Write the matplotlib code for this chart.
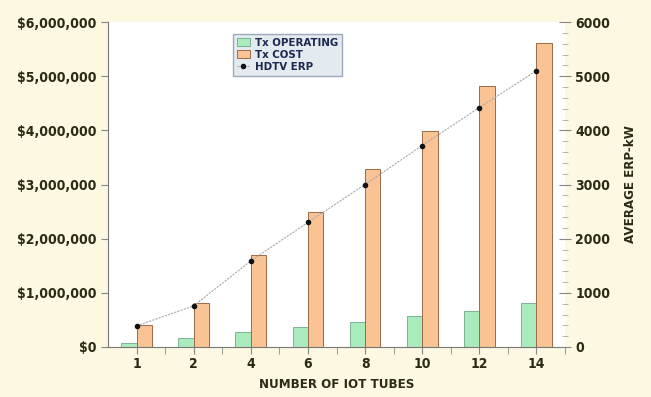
import matplotlib
matplotlib.use("Agg")
import matplotlib.pyplot as plt
from matplotlib.ticker import FuncFormatter, MultipleLocator
import numpy as np

categories = ["1", "2", "4", "6", "8", "10", "12", "14"]
tx_operating = [80000, 160000, 280000, 375000, 470000, 580000, 670000, 810000]
tx_cost = [400000, 820000, 1700000, 2500000, 3280000, 3990000, 4810000, 5610000]
hdtv_erp = [390, 760, 1590, 2300, 3000, 3720, 4420, 5100]

plt.rcParams['font.family'] = ['DejaVu Sans']
plt.rcParams['font.stretch'] = 'condensed'
txt = '#2b2b12'

fig = plt.figure(figsize=(6.51, 3.97), dpi=100, facecolor='#fcf8e2')
ax = fig.add_axes([108/651, 1-347/397, (565-108)/651, (347-22)/397])
ax.set_facecolor('white')

x = np.arange(len(categories))
w = 0.27
ax.bar(x - w/2, tx_operating, w, color='#a9ebbd', edgecolor='#6fa888', linewidth=0.6, label='Tx OPERATING')
ax.bar(x + w/2, tx_cost, w, color='#f9c394', edgecolor='#9a6a48', linewidth=0.7, label='Tx COST')

ax.set_xlim(-0.5, len(categories) - 0.5)
ax.set_ylim(0, 6000000)
ax.set_xticks(x)
ax.set_xticklabels(categories)
ax.set_xticks(np.arange(len(categories)) + 0.5, minor=True)
ax.yaxis.set_major_locator(MultipleLocator(1000000))
ax.yaxis.set_major_formatter(FuncFormatter(lambda v, p: f"${int(v):,}"))
for s in ['top', 'right']:
    ax.spines[s].set_visible(False)
for s in ['left', 'bottom']:
    ax.spines[s].set_color('#777777')
    ax.spines[s].set_linewidth(0.8)
ax.tick_params(axis='both', which='major', labelsize=10, colors='#888888', labelcolor=txt, length=5, width=0.8)
ax.tick_params(axis='x', which='major', pad=2)
ax.tick_params(axis='x', which='minor', length=5, color='#888888')
for lab in ax.get_xticklabels() + ax.get_yticklabels():
    lab.set_fontweight('bold')
ax.set_xlabel('NUMBER OF IOT TUBES', fontsize=9.5, fontweight='bold', color=txt, labelpad=5)

ax2 = ax.twinx()
line, = ax2.plot(x, hdtv_erp, color='#aaaaaa', linewidth=0.8, linestyle=(0, (2, 1)),
                 marker='o', markersize=3, markerfacecolor='#111111', markeredgecolor='#111111',
                 label='HDTV ERP')
ax2.set_ylim(0, 6000)
ax2.yaxis.set_major_locator(MultipleLocator(1000))
ax2.yaxis.set_minor_locator(MultipleLocator(200))
for s in ['top', 'left', 'bottom', 'right']:
    ax2.spines[s].set_visible(False)
ax2.tick_params(axis='y', which='major', labelsize=10, colors='#888888', labelcolor=txt, length=8, width=0.8, direction='inout')
ax2.tick_params(axis='y', which='minor', length=5, colors='#aaaaaa', direction='inout')
for lab in ax2.get_yticklabels():
    lab.set_fontweight('bold')
ax2.set_ylabel('AVERAGE ERP-kW', fontsize=9.5, fontweight='bold', color=txt, labelpad=10)

h1, l1 = ax.get_legend_handles_labels()
leg = ax.legend(h1 + [line], l1 + ['HDTV ERP'], loc='upper left', bbox_to_anchor=(0.26, 0.98),
                frameon=True, fancybox=False, handlelength=1.2, handletextpad=0.4,
                labelspacing=0.15, borderpad=0.35, prop={'weight': 'bold', 'size': 8.2})
leg.get_frame().set_facecolor('#dde6ee')
leg.get_frame().set_edgecolor('#8896a8')
for t in leg.get_texts():
    t.set_color('#1c2850')

fig.savefig('out.png', dpi=100, facecolor=fig.get_facecolor())
